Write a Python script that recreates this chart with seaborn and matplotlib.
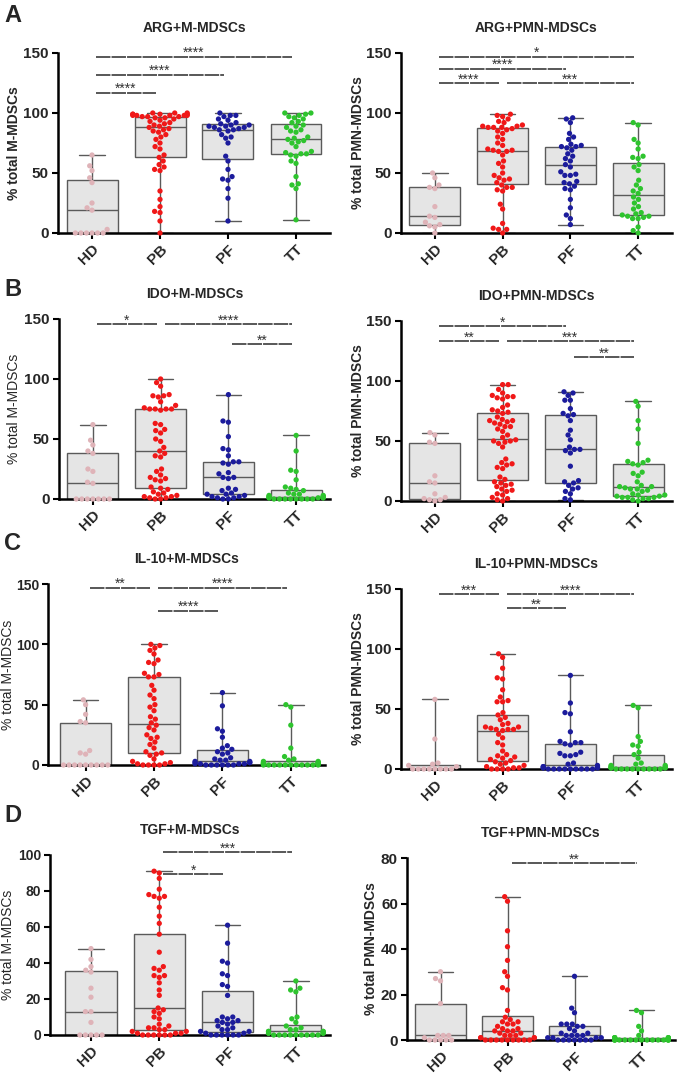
import warnings
import numpy as np
import pandas as pd
import matplotlib
matplotlib.use("Agg")
import matplotlib.pyplot as plt
import seaborn as sns

warnings.filterwarnings("ignore")

# ---------------- data ----------------
groups = ["HD", "PB", "PF", "TT"]

# A - ARG+M-MDSCs
arg_m_hd = [65, 56, 52, 46, 42, 25, 21, 19, 3, 0, 0, 0, 0, 0, 0]
arg_m_pb = [100, 100, 100, 99, 99, 99, 99, 98, 98, 98, 98, 98, 97, 97, 97, 96, 96, 95, 94, 93,
            92, 91, 90, 89, 88, 87, 86, 85, 84, 82, 80, 78, 75, 72, 70, 65, 63, 60, 57, 55,
            53, 52, 35, 28, 22, 18, 17, 10, 0]
arg_m_pf = [100, 98, 98, 97, 95, 94, 92, 91, 90, 90, 89, 89, 88, 88, 87, 86, 86, 85, 82, 80,
            79, 75, 64, 60, 53, 47, 45, 44, 37, 29, 10]
arg_m_tt = [100, 100, 99, 98, 97, 96, 95, 93, 92, 90, 89, 88, 86, 85, 84, 80, 79, 78, 77, 76,
            75, 72, 68, 67, 66, 66, 65, 64, 60, 58, 47, 41, 40, 37, 11]
arg_m_sig = [("HD", "PB", 117, "****"), ("HD", "PF", 132, "****"), ("HD", "TT", 147, "****")]

# A - ARG+PMN-MDSCs
arg_p_hd = [50, 46, 40, 38, 37, 22, 14, 13, 9, 7, 6, 5, 0]
arg_p_pb = [99, 98, 97, 95, 93, 92, 90, 89, 89, 88, 88, 88, 87, 86, 85, 83, 80, 78, 75, 73,
            70, 69, 69, 68, 68, 65, 60, 58, 55, 50, 48, 46, 45, 44, 42, 40, 38, 38, 36, 35,
            24, 20, 8, 4, 3, 3, 0]
arg_p_pf = [96, 95, 92, 83, 80, 78, 74, 73, 72, 72, 71, 69, 66, 64, 62, 60, 57, 55, 51, 49,
            48, 48, 43, 42, 41, 39, 37, 36, 28, 21, 15, 12, 7]
arg_p_tt = [92, 90, 78, 75, 70, 64, 63, 62, 57, 55, 52, 44, 40, 37, 35, 33, 30, 28, 25, 22,
            20, 17, 16, 15, 14, 14, 13, 12, 12, 5, 2, 0]
arg_p_sig = [("HD", "TT", 147, "*"), ("HD", "PF", 137, "****"), ("HD", "PB", 125, "****"),
             ("PB", "TT", 125, "***")]

# B - IDO+M-MDSCs
ido_m_hd = [62, 49, 45, 40, 38, 25, 23, 14, 13, 0, 0, 0, 0, 0, 0, 0]
ido_m_pb = [100, 97, 94, 87, 86, 86, 85, 81, 78, 76, 75, 75, 75, 75, 74, 63, 62, 58, 57, 55,
            50, 48, 43, 40, 38, 36, 35, 25, 23, 20, 18, 17, 16, 15, 10, 9, 8, 6, 5, 4,
            3, 2, 2, 1, 1, 0, 0]
ido_m_pf = [87, 65, 64, 52, 42, 41, 36, 31, 31, 30, 29, 22, 21, 18, 18, 17, 9, 8, 7, 5,
            4, 4, 3, 2, 2, 1, 1, 0, 0]
ido_m_tt = [53, 40, 24, 23, 16, 10, 9, 8, 7, 5, 4, 4, 3, 3, 2, 2, 2, 2, 1, 1,
            1, 1, 1, 0, 0, 0, 0, 0, 0, 0, 0]
ido_m_sig = [("HD", "PB", 146, "*"), ("PB", "TT", 146, "****"), ("PF", "TT", 129, "**")]

# B - IDO+PMN-MDSCs
ido_p_hd = [57, 55, 49, 48, 21, 16, 15, 6, 3, 2, 1, 1, 0]
ido_p_pb = [97, 97, 93, 90, 88, 87, 87, 86, 85, 80, 78, 76, 75, 74, 73, 70, 68, 67, 67, 66,
            65, 64, 62, 62, 60, 58, 55, 53, 51, 50, 50, 49, 48, 45, 35, 32, 31, 30, 28, 27,
            20, 18, 16, 15, 14, 13, 12, 10, 9, 8, 6, 5, 3, 2, 1, 0]
ido_p_pf = [91, 90, 88, 84, 84, 77, 73, 72, 71, 67, 59, 55, 51, 45, 43, 43, 42, 40, 29, 17,
            16, 15, 13, 11, 10, 8, 6, 2, 1]
ido_p_tt = [83, 79, 67, 60, 48, 34, 33, 32, 31, 30, 24, 23, 21, 16, 13, 12, 12, 11, 10, 10,
            9, 8, 6, 5, 5, 4, 4, 3, 3, 3, 2, 2, 1, 0]
ido_p_sig = [("HD", "PF", 146, "*"), ("HD", "PB", 133, "**"), ("PB", "TT", 133, "***"),
             ("PF", "TT", 120, "**")]

# C - IL-10+M-MDSCs
il_m_hd = [54, 50, 42, 36, 35, 12, 10, 9, 0, 0, 0, 0, 0, 0, 0, 0, 0]
il_m_pb = [100, 99, 97, 95, 92, 87, 85, 84, 76, 75, 73, 73, 66, 62, 58, 55, 50, 48, 45, 40,
           38, 35, 33, 31, 29, 25, 23, 22, 19, 17, 14, 11, 10, 9, 8, 5, 3, 2, 1, 1,
           0, 0, 0, 0]
il_m_pf = [60, 49, 30, 28, 23, 16, 14, 13, 11, 10, 9, 6, 5, 4, 4, 3, 3, 2, 2, 2,
           1, 1, 1, 1, 0, 0, 0, 0, 0, 0]
il_m_tt = [50, 48, 33, 14, 7, 5, 4, 3, 3, 2, 2, 2, 2, 1, 1, 1, 1, 1, 1, 0,
           0, 0, 0, 0, 0, 0, 0, 0, 0, 0]
il_m_sig = [("HD", "PB", 147, "**"), ("PB", "TT", 147, "****"), ("PB", "PF", 128, "****")]

# C - IL-10+PMN-MDSCs
il_p_hd = [58, 25, 5, 4, 3, 2, 0, 0, 0, 0, 0, 0, 0, 0]
il_p_pb = [96, 93, 84, 76, 75, 66, 60, 57, 56, 56, 47, 45, 43, 41, 38, 37, 35, 35, 34, 33,
           33, 33, 32, 29, 26, 22, 20, 15, 12, 11, 10, 9, 8, 7, 6, 5, 4, 3, 2, 1,
           1, 0, 0, 0, 0]
il_p_pf = [78, 55, 47, 46, 31, 23, 22, 22, 21, 20, 14, 13, 12, 11, 11, 5, 4, 3, 2, 2,
           2, 1, 1, 1, 1, 0, 0, 0, 0, 0, 0, 0, 0, 0]
il_p_tt = [53, 51, 27, 23, 20, 19, 14, 12, 9, 5, 4, 3, 3, 2, 2, 1, 1, 1, 1, 1,
           0, 0, 0, 0, 0, 0, 0, 0, 0]
il_p_sig = [("HD", "PB", 146, "***"), ("PB", "TT", 146, "****"), ("PB", "PF", 134, "**")]

# D - TGF+M-MDSCs
tgf_m_hd = [48, 42, 38, 36, 35, 26, 21, 13, 13, 7, 0, 0, 0, 0, 0]
tgf_m_pb = [91, 90, 87, 81, 78, 77, 77, 76, 71, 66, 62, 56, 46, 38, 37, 36, 33, 33, 32, 29,
            25, 22, 15, 14, 13, 12, 10, 9, 6, 5, 4, 4, 3, 3, 2, 2, 1, 1, 1, 0,
            0, 0, 0, 0, 0]
tgf_m_pf = [61, 51, 41, 40, 34, 33, 28, 27, 22, 10, 10, 9, 8, 8, 7, 7, 6, 5, 4, 3,
            3, 2, 2, 1, 1, 0, 0, 0, 0, 0, 0]
tgf_m_tt = [30, 26, 25, 24, 10, 9, 7, 5, 4, 3, 3, 2, 2, 2, 2, 1, 1, 1, 1, 0,
            0, 0, 0, 0, 0, 0, 0, 0]
tgf_m_sig = [("PB", "TT", 101.7, "***"), ("PB", "PF", 89.3, "*")]

# D - TGF+PMN-MDSCs
tgf_p_hd = [30, 27, 26, 16, 2, 2, 2, 1, 0, 0, 0, 0, 0]
tgf_p_pb = [63, 61, 48, 41, 35, 30, 28, 23, 22, 13, 10, 9, 8, 8, 7, 7, 6, 5, 5, 4,
            4, 4, 3, 3, 2, 2, 2, 1, 1, 1, 1, 0, 0, 0, 0, 0, 0, 0, 0, 0]
tgf_p_pf = [28, 14, 12, 7, 7, 7, 6, 6, 5, 4, 3, 3, 2, 2, 2, 2, 1, 1, 1, 1,
            0, 0, 0, 0, 0, 0, 0]
tgf_p_tt = [13, 12, 6, 4, 2, 1, 1, 1, 1, 1, 1, 1, 0, 0, 0, 0, 0, 0, 0, 0,
            0, 0, 0, 0, 0, 0, 0]
tgf_p_sig = [("PB", "TT", 77.7, "**")]

titles = ["ARG+M-MDSCs", "ARG+PMN-MDSCs", "IDO+M-MDSCs", "IDO+PMN-MDSCs",
          "IL-10+M-MDSCs", "IL-10+PMN-MDSCs", "TGF+M-MDSCs", "TGF+PMN-MDSCs"]
ylabels = ["% total M-MDSCs", "% total PMN-MDSCs"] * 4
panel_letters = ["A", "B", "C", "D"]

# ---------------- style ----------------
sns.set_theme(style="ticks")
plt.rcParams["font.family"] = ["Liberation Sans", "DejaVu Sans"]

point_colors = {"HD": "#dfb3b8", "PB": "#f01818", "PF": "#1c1c9c", "TT": "#2ec42e"}
W, H = 684, 1074
fig = plt.figure(figsize=(W / 100, H / 100), dpi=100)


def add_axes(left, right, top, bottom):
    return fig.add_axes([left / W, 1 - bottom / H, (right - left) / W, (bottom - top) / H])


panels = [
    dict(box=(58, 330, 53, 233), data=[arg_m_hd, arg_m_pb, arg_m_pf, arg_m_tt], sig=arg_m_sig,
         ymax=150, yticks=[0, 50, 100, 150], xlim=(-0.5, 3.5), ybold=True, labx=21, ytfs=11),
    dict(box=(401, 672, 53, 233), data=[arg_p_hd, arg_p_pb, arg_p_pf, arg_p_tt], sig=arg_p_sig,
         ymax=150, yticks=[0, 50, 100, 150], xlim=(-0.5, 3.5), ybold=True, labx=365, ytfs=11),
    dict(box=(59, 330, 319, 499), data=[ido_m_hd, ido_m_pb, ido_m_pf, ido_m_tt], sig=ido_m_sig,
         ymax=150, yticks=[0, 50, 100, 150], xlim=(-0.5, 3.5), ybold=False, labx=21, ytfs=11),
    dict(box=(401, 672, 321, 501), data=[ido_p_hd, ido_p_pb, ido_p_pf, ido_p_tt], sig=ido_p_sig,
         ymax=150, yticks=[0, 50, 100, 150], xlim=(-0.5, 3.5), ybold=True, labx=365, ytfs=11),
    dict(box=(48, 325, 584, 765), data=[il_m_hd, il_m_pb, il_m_pf, il_m_tt], sig=il_m_sig,
         ymax=150, yticks=[0, 50, 100, 150], xlim=(-0.55, 3.5), ybold=False, labx=15, ytfs=10),
    dict(box=(401, 672, 589, 769), data=[il_p_hd, il_p_pb, il_p_pf, il_p_tt], sig=il_p_sig,
         ymax=150, yticks=[0, 50, 100, 150], xlim=(-0.5, 3.5), ybold=True, labx=365, ytfs=11),
    dict(box=(50, 330, 855, 1035), data=[tgf_m_hd, tgf_m_pb, tgf_m_pf, tgf_m_tt], sig=tgf_m_sig,
         ymax=100, yticks=[0, 20, 40, 60, 80, 100], xlim=(-0.6, 3.5), ybold=False, labx=15,
         ytfs=10),
    dict(box=(407, 675, 858, 1040), data=[tgf_p_hd, tgf_p_pb, tgf_p_pf, tgf_p_tt], sig=tgf_p_sig,
         ymax=80, yticks=[0, 20, 40, 60, 80], xlim=(-0.5, 3.5), ybold=True, labx=378, ytfs=11),
]

for i, p in enumerate(panels):
    ax = add_axes(*p["box"])
    df = pd.DataFrame({
        "group": [g for g, vals in zip(groups, p["data"]) for _ in vals],
        "value": [v for vals in p["data"] for v in vals],
    })
    sns.boxplot(data=df, x="group", y="value", order=groups, whis=(0, 100), width=0.75,
                color="#e5e5e5", linecolor="#5a5a5a", linewidth=1.0, fliersize=0, ax=ax)
    sns.swarmplot(data=df, x="group", y="value", order=groups, hue="group", hue_order=groups,
                  palette=point_colors, size=3.8, linewidth=0, legend=False, ax=ax, zorder=3)
    for coll in ax.collections:
        coll.set_clip_on(False)

    ymax = p["ymax"]
    ax.set_ylim(0, ymax)
    ax.set_xlim(*p["xlim"])
    ax.set_yticks(p["yticks"])
    ax.spines["top"].set_visible(False)
    ax.spines["right"].set_visible(False)
    for s in ("left", "bottom"):
        ax.spines[s].set_linewidth(1.8)
        ax.spines[s].set_color("black")
    ax.tick_params(axis="both", direction="out", length=4.5, width=1.5, color="black", pad=2)
    ax.tick_params(axis="y", labelsize=p["ytfs"])
    ax.tick_params(axis="x", labelsize=11)
    for lab in ax.get_yticklabels():
        lab.set_fontweight("bold")
    ax.set_xticks(range(4))
    ax.set_xticklabels(groups, rotation=45, ha="right", rotation_mode="anchor", fontweight="bold")
    ax.set_xlabel("")
    ax.set_ylabel(ylabels[i], fontsize=10, fontweight="bold" if p["ybold"] else "normal")
    left, right = p["box"][0], p["box"][1]
    ax.yaxis.set_label_coords((p["labx"] - left) / (right - left), 0.5)
    ax.set_title(titles[i], fontsize=10, fontweight="bold", pad=15)

    for g1, g2, y, stars in p["sig"]:
        x1 = groups.index(g1) + 0.06
        x2 = groups.index(g2) - 0.06
        ax.plot([x1, x2], [y, y], color="#4a4a4a", lw=1.3, ls=(0, (8, 0.6)), clip_on=False,
                zorder=4)
        ax.annotate(stars, xy=((x1 + x2) / 2, y), xytext=(0, 2.5), textcoords="offset points",
                    ha="center", va="center", fontsize=10, color="#333333",
                    annotation_clip=False, zorder=5)

# panel letters
for letter, ypx in zip(panel_letters, [15, 289, 543, 816]):
    fig.text(4 / W, 1 - ypx / H, letter, fontsize=17, fontweight="bold", va="center", ha="left")

fig.savefig("out.png", dpi=100)
